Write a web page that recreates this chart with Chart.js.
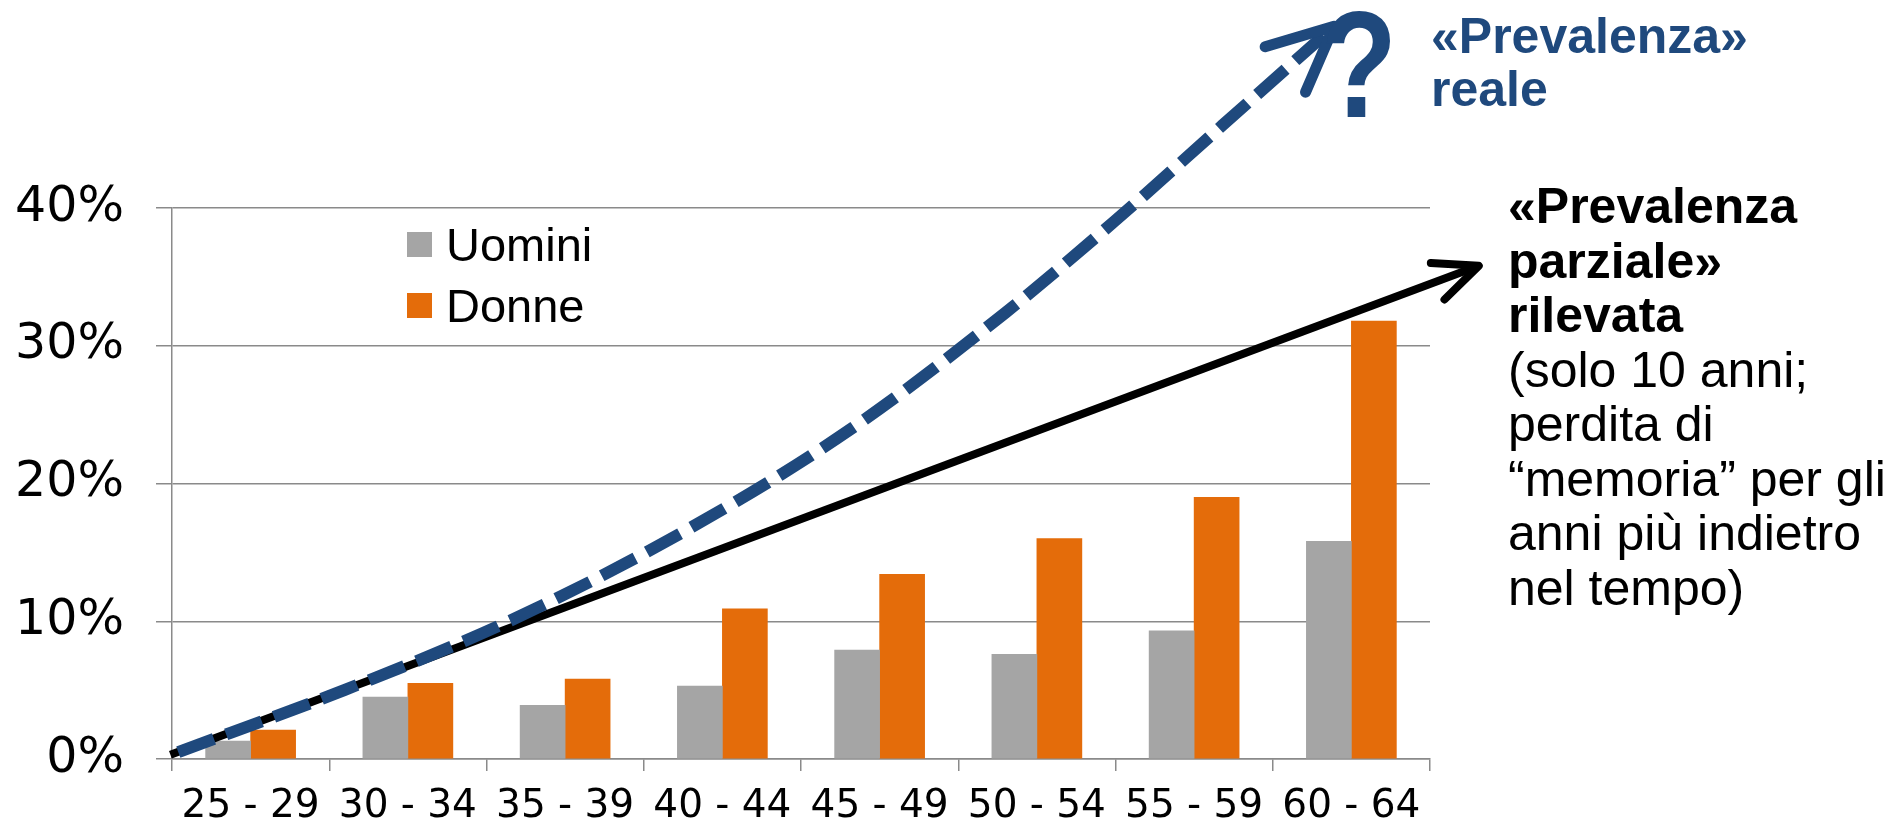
<!DOCTYPE html>
<html>
<head>
<meta charset="utf-8">
<title>Prevalenza per classe di età</title>
<script src="https://cdn.jsdelivr.net/npm/chart.js"></script>
<style>
  body { margin: 0; background: #fff; }
  #wrap { position: relative; width: 1895px; height: 828px; overflow: hidden; }
  #chart { position: absolute; left: 0; top: 0; }
  .txt { position: absolute; font-family: "Liberation Sans", Arial, sans-serif; white-space: nowrap; }
  #legend { left: 407px; top: 214px; font-size: 47px; line-height: 61px; color: #000; }
  #legend .item { position: relative; padding-left: 39px; height: 61px; }
  #legend .sw { position: absolute; left: 0; top: 18px; width: 25px; height: 25px; }
  #reale { left: 1431px; top: 10px; font-size: 50px; line-height: 53px; font-weight: bold; color: #1f497d; }
  #quest { left: 1321px; top: -12px; font-size: 152px; line-height: 152px; font-weight: bold; color: #1f497d;
           transform: scaleX(0.82); transform-origin: left top; }
  #parziale { left: 1508px; top: 179px; font-size: 50px; line-height: 54.5px; color: #000; }
</style>
</head>
<body>
<div id="wrap">
  <canvas id="chart" width="1895" height="828"></canvas>
  <div id="legend" class="txt"></div>
  <div id="quest" class="txt">?</div>
  <div id="reale" class="txt">«Prevalenza»<br>reale</div>
  <div id="parziale" class="txt"><b>«Prevalenza<br>parziale»<br>rilevata</b><br>(solo 10 anni;<br>perdita di<br>“memoria” per gli<br>anni più indietro<br>nel tempo)</div>
</div>
<script>
// data
const categories = ['25 - 29', '30 - 34', '35 - 39', '40 - 44', '45 - 49', '50 - 54', '55 - 59', '60 - 64'];
const uomini = [1.3, 4.5, 3.9, 5.3, 7.9, 7.6, 9.3, 15.8];
const donne = [2.1, 5.5, 5.8, 10.9, 13.4, 16.0, 19.0, 31.8];
const seriesNames = ['Uomini', 'Donne'];
const seriesColors = ['#a5a5a5', '#e46c0a'];
const yTicks = [0, 10, 20, 30, 40];

// trend arrows, x = category index on a hidden linear axis
const rilevataX = [-0.51, 7.81];
const rilevataY = [0.3, 35.8];
const realeX = [-0.46, 0.55, 1.68, 2.8, 3.81, 4.8, 5.49, 6.18, 6.89];
const realeY = [0.5, 4.8, 10.2, 16.8, 23.9, 32.4, 39.0, 46.0, 53.2];

const toPoints = (xs, ys) => xs.map((x, i) => ({ x: x, y: ys[i] }));

// legend (html)
document.getElementById('legend').innerHTML = seriesNames.map((n, i) =>
  `<div class="item"><span class="sw" style="background:${seriesColors[i]}"></span>${n}</div>`).join('');

// open arrow head at the end of a line dataset
const arrowHeads = {
  id: 'arrowHeads',
  afterDatasetsDraw(chart) {
    const ctx = chart.ctx;
    chart.data.datasets.forEach((ds, i) => {
      if (!ds.arrow) return;
      const pts = chart.getDatasetMeta(i).data;
      const a = pts[pts.length - 2], b = pts[pts.length - 1];
      const ang = Math.atan2(b.y - a.y, b.x - a.x);
      const len = ds.arrow.len, half = ds.arrow.half * Math.PI / 180;
      ctx.save();
      ctx.strokeStyle = ds.borderColor;
      ctx.lineWidth = ds.arrow.width;
      ctx.lineCap = 'round';
      ctx.lineJoin = 'round';
      ctx.beginPath();
      ctx.moveTo(b.x - len * Math.cos(ang - half), b.y - len * Math.sin(ang - half));
      ctx.lineTo(b.x, b.y);
      ctx.lineTo(b.x - len * Math.cos(ang + half), b.y - len * Math.sin(ang + half));
      ctx.stroke();
      ctx.restore();
    });
  }
};

const gridColor = '#8a8a8a';

new Chart(document.getElementById('chart'), {
  data: {
    labels: categories,
    datasets: [
      {
        type: 'line', label: '«Prevalenza» reale', xAxisID: 'xl', yAxisID: 'y',
        data: toPoints(realeX, realeY), borderColor: '#1f497d', borderWidth: 12,
        borderDash: [38, 13], borderCapStyle: 'butt', cubicInterpolationMode: 'monotone',
        pointRadius: 0, clip: false, order: 0,
        arrow: { len: 72, half: 25, width: 11 }
      },
      {
        type: 'line', label: '«Prevalenza parziale» rilevata', xAxisID: 'xl', yAxisID: 'y',
        data: toPoints(rilevataX, rilevataY), borderColor: '#000000', borderWidth: 8,
        pointRadius: 0, clip: false, order: 1,
        arrow: { len: 48, half: 24, width: 8 }
      },
      {
        type: 'bar', label: seriesNames[0], data: uomini, backgroundColor: seriesColors[0],
        barThickness: 45, xAxisID: 'x', yAxisID: 'y', order: 2
      },
      {
        type: 'bar', label: seriesNames[1], data: donne, backgroundColor: seriesColors[1],
        barThickness: 45, xAxisID: 'x', yAxisID: 'y', order: 2
      }
    ]
  },
  options: {
    responsive: false,
    animation: false,
    devicePixelRatio: 1,
    layout: { padding: { left: 0, top: 208, right: 465, bottom: 0 } },
    plugins: { legend: { display: false }, tooltip: { enabled: false } },
    scales: {
      x: {
        type: 'category',
        grid: { offset: true, drawOnChartArea: false, drawTicks: true, tickLength: 12, color: gridColor, lineWidth: 1.5 },
        border: { display: true, color: gridColor, width: 1.5 },
        ticks: { color: '#000', font: { family: 'DejaVu Sans', size: 39 }, padding: 12, maxRotation: 0, autoSkip: false },
        afterFit: (s) => { s.height = 69; }
      },
      xl: {
        type: 'linear', display: false, min: -0.5, max: 7.5
      },
      y: {
        min: 0, max: 40,
        afterBuildTicks: (s) => { s.ticks = yTicks.map(v => ({ value: v })); },
        grid: { color: gridColor, lineWidth: 1.5, tickLength: 16 },
        border: { display: true, color: gridColor, width: 1.5 },
        ticks: { color: '#000', font: { family: 'DejaVu Sans', size: 49 }, padding: 32, callback: (v) => v + '%' },
        afterFit: (s) => { s.width = 172; }
      }
    }
  },
  plugins: [arrowHeads]
});
</script>
</body>
</html>
